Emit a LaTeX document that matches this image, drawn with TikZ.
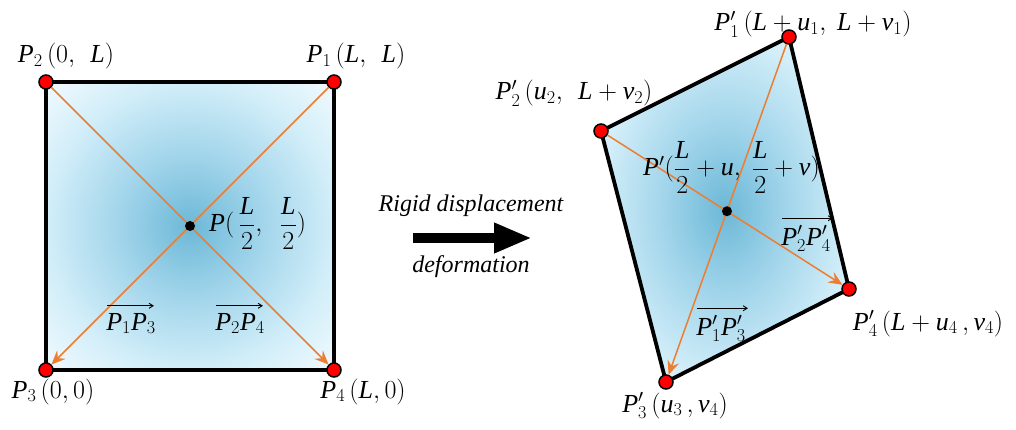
\RequirePackage{fix-cm}
\documentclass[tikz,border=0pt]{standalone}
\usepackage{amsmath}
\usepackage{fontspec}
\setmainfont{Liberation Serif}
\usetikzlibrary{arrows.meta,calc}
\definecolor{shA}{RGB}{108,184,215}
\definecolor{shB}{RGB}{160,212,234}
\definecolor{shC}{RGB}{210,238,249}
\definecolor{shD}{RGB}{244,251,254}
\definecolor{orng}{RGB}{237,125,49}
\pgfdeclareradialshading{quadshade}{\pgfpoint{0bp}{0bp}}{color(0bp)=(shA); color(12bp)=(shB); color(25bp)=(shC); color(36bp)=(shD); color(50bp)=(shD)}
\newcommand\I[1]{\mathit{#1}}
\tikzset{
  lbl/.style={inner sep=0pt, font=\fontsize{26}{30}\selectfont},
  itxt/.style={inner sep=0pt, font=\fontsize{24}{28}\selectfont\itshape},
  vertex/.style={circle, fill=red, draw=black, line width=1.5pt, minimum size=14pt, inner sep=0pt},
  cdot/.style={circle, fill=black, minimum size=10pt, inner sep=0pt},
  edge/.style={draw=black, line width=3.8pt},
  diag/.style={draw=orng, line width=1.5pt, -{Stealth[length=14pt, width=12pt, inset=5pt]}},
  vecarrow/.style={draw=black, line width=0.9pt, -{Straight Barb[length=4pt, width=5pt]}},
  bigarrow/.style={draw=black, line width=10.5pt, -{Triangle[length=38pt, width=28pt]}},
}
\begin{document}
\begin{tikzpicture}[x=1pt,y=-1pt]
\useasboundingbox (0,0) rectangle (1016,430);
% ---------- left square ----------
\coordinate (P1) at (334,82);
\coordinate (P2) at (46,82);
\coordinate (P3) at (46,370);
\coordinate (P4) at (334,370);
\shade[shading=quadshade] (P2) -- (P1) -- (P4) -- (P3) -- cycle;
\draw[edge] (P2) -- (P1) -- (P4) -- (P3) -- cycle;
\node[vertex] (v1) at (P1) {};
\node[vertex] (v2) at (P2) {};
\node[vertex] (v3) at (P3) {};
\node[vertex] (v4) at (P4) {};
\draw[diag] (v1) -- (v3);
\draw[diag] (v2) -- (v4);
\node[cdot] (c) at (intersection of P1--P3 and P2--P4) {};
% ---------- right quadrilateral ----------
\coordinate (Q1) at (789,37);
\coordinate (Q2) at (601,131);
\coordinate (Q3) at (666,382);
\coordinate (Q4) at (849,289);
\shade[shading=quadshade] (Q2) -- (Q1) -- (Q4) -- (Q3) -- cycle;
\draw[edge] (Q2) -- (Q1) -- (Q4) -- (Q3) -- cycle;
\node[vertex] (w1) at (Q1) {};
\node[vertex] (w2) at (Q2) {};
\node[vertex] (w3) at (Q3) {};
\node[vertex] (w4) at (Q4) {};
\draw[diag] (w1) -- (w3);
\draw[diag] (w2) -- (w4);
\node[cdot] (cq) at (intersection of Q1--Q3 and Q2--Q4) {};
% ---------- middle arrow ----------
\coordinate (a1) at (413,238);
\coordinate (a2) at (532,238);
\draw[bigarrow] (a1) -- (a2);
\node[itxt, anchor=base] (t1) at (471,212) {Rigid displacement};
\node[itxt, anchor=base] (t2) at (471,272) {deformation};
% ---------- left labels ----------
\node[lbl, anchor=base] (lp2) at (66,63) {$\I{P}_2\,(0,\ \,\I{L})$};
\node[lbl, anchor=base] (lp1) at (356,63) {$\I{P}_1\,(\I{L},\ \,\I{L})$};
\node[lbl, anchor=base] (lp3) at (53,398) {$\I{P}_3\,(0,0)$};
\node[lbl, anchor=base] (lp4) at (363,398) {$\I{P}_4\,(\I{L},0)$};
\node[lbl, anchor=base west] (lpc) at (209,232) {$\I{P}(\,\dfrac{\I{L}}{2},\ \ \dfrac{\I{L}}{2})$};
\node[lbl, anchor=base] (lv13) at (131,330) {$\I{P}_1\I{P}_3$};
\node[lbl, anchor=base] (lv24) at (240,330) {$\I{P}_2\I{P}_4$};
\draw[vecarrow] ($(lv13.north west)+(1,-7)$) -- ($(lv13.north east)+(-2,-7)$);
\draw[vecarrow] ($(lv24.north west)+(1,-7)$) -- ($(lv24.north east)+(-2,-7)$);
% ---------- right labels ----------
\node[lbl, anchor=base] (lq1) at (813,31) {$\I{P}'_1\,(\I{L}+\I{u}_1,\ \I{L}+\I{v}_1)$};
\node[lbl, anchor=base] (lq2) at (574,100) {$\I{P}'_2\,(\I{u}_2,\ \,\I{L}+\I{v}_2)$};
\node[lbl, anchor=base west] (lqc) at (643,176) {$\I{P}'(\dfrac{\I{L}}{2}+\I{u},\ \dfrac{\I{L}}{2}+\I{v})$};
\node[lbl, anchor=base] (lw24) at (806,245) {$\I{P}'_2\I{P}'_4$};
\node[lbl, anchor=base] (lw13) at (721,335) {$\I{P}'_1\I{P}'_3$};
\draw[vecarrow] ($(lw24.north west)+(1,-7)$) -- ($(lw24.north east)+(2,-7)$);
\draw[vecarrow] ($(lw13.north west)+(1,-7)$) -- ($(lw13.north east)+(2,-7)$);
\node[lbl, anchor=base] (lq4) at (928,330) {$\I{P}'_4\,(\I{L}+\I{u}_4\,,\I{v}_4)$};
\node[lbl, anchor=base] (lq3) at (675,412) {$\I{P}'_3\,(\I{u}_3\,,\I{v}_4)$};
\end{tikzpicture}
\end{document}
